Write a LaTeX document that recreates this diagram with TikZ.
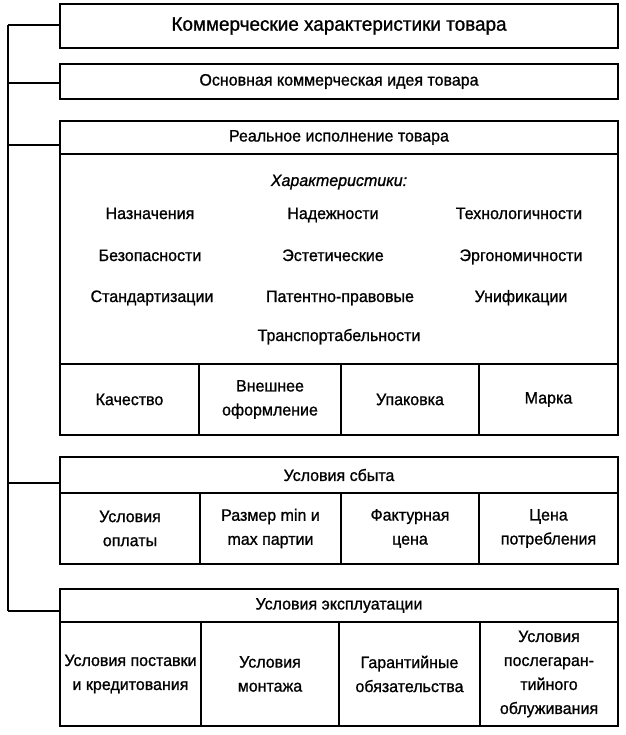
\documentclass[tikz,border=0pt]{standalone}
\usepackage{fontspec}
\setmainfont{Liberation Sans}[FakeStretch=0.97, FakeBold=1.0]
\tikzset{
  cell/.style={draw, line width=1.7pt, inner sep=0pt, align=center, font=\fontsize{16.5}{24}\selectfont},
  charitem/.style={inner sep=0pt, text height=11pt, text depth=3pt, font=\fontsize{16.5}{20}\selectfont},
  link/.style={line width=1.5pt},
}
\newcommand\bx[6]{\node[cell, minimum width={(#4-#2)*1pt}, minimum height={(#5-#3)*1pt}] (#1) at ({(#2+#4)/2},{(#3+#5)/2}) {#6};}
\begin{document}
\begin{tikzpicture}[x=1pt,y=-1pt]
\useasboundingbox (0,0) rectangle (625,735);
% top boxes
\bx{t1}{60}{4}{618}{48}{\fontsize{19.5}{22}\selectfont Коммерческие характеристики товара}
\bx{t2}{60}{64}{618}{99}{Основная коммерческая идея товара}
% real execution
\bx{t3}{60}{121}{618}{154}{Реальное исполнение товара}
\bx{t3b}{60}{154}{618}{364}{}
\bx{q1}{60}{364}{199}{435}{Качество}
\bx{q2}{199}{364}{341}{435}{Внешнее\\оформление}
\bx{q3}{341}{364}{479}{435}{Упаковка}
\bx{q4}{479}{364}{618}{435}{Марка}
% characteristics
\node[charitem, font=\fontsize{16.5}{20}\selectfont\itshape] (ch) at (339,182) {Характеристики:};
\node[charitem] (c11) at (150,215) {Назначения};
\node[charitem] (c12) at (333,215) {Надежности};
\node[charitem] (c13) at (519,215) {Технологичности};
\node[charitem] (c21) at (150,257) {Безопасности};
\node[charitem] (c22) at (333,257) {Эстетические};
\node[charitem] (c23) at (521,257) {Эргономичности};
\node[charitem] (c31) at (152,298) {Стандартизации};
\node[charitem] (c32) at (340,298) {Патентно-правовые};
\node[charitem] (c33) at (521,298) {Унификации};
\node[charitem] (c41) at (339,337) {Транспортабельности};
% sales
\bx{t4}{60}{457}{618}{493}{Условия сбыта}
\bx{s1}{60}{493}{200}{564}{Условия\\оплаты}
\bx{s2}{200}{493}{341}{564}{Размер min и\\max партии}
\bx{s3}{341}{493}{479}{564}{Фактурная\\цена}
\bx{s4}{479}{493}{618}{564}{Цена\\потребления}
% exploitation
\bx{t5}{60}{589}{618}{622}{Условия эксплуатации}
\bx{e1}{60}{622}{201}{726}{Условия поставки\\и кредитования}
\bx{e2}{201}{622}{339}{726}{Условия\\монтажа}
\bx{e3}{339}{622}{480}{726}{Гарантийные\\обязательства}
\bx{e4}{480}{622}{618}{726}{Условия\\послегаран-\\тийного\\облуживания}
% connectors
\coordinate (k1) at (8,25);
\coordinate (k2) at (8,83);
\coordinate (k3) at (8,145);
\coordinate (k4) at (8,483);
\coordinate (k5) at (8,611);
\draw[link] (k1) -- (k5);
\draw[link] (k1) -- (k1 -| t1.west);
\draw[link] (k2) -- (k2 -| t2.west);
\draw[link] (k3) -- (k3 -| t3.west);
\draw[link] (k4) -- (k4 -| t4.west);
\draw[link] (k5) -- (k5 -| t5.west);
\end{tikzpicture}
\end{document}
